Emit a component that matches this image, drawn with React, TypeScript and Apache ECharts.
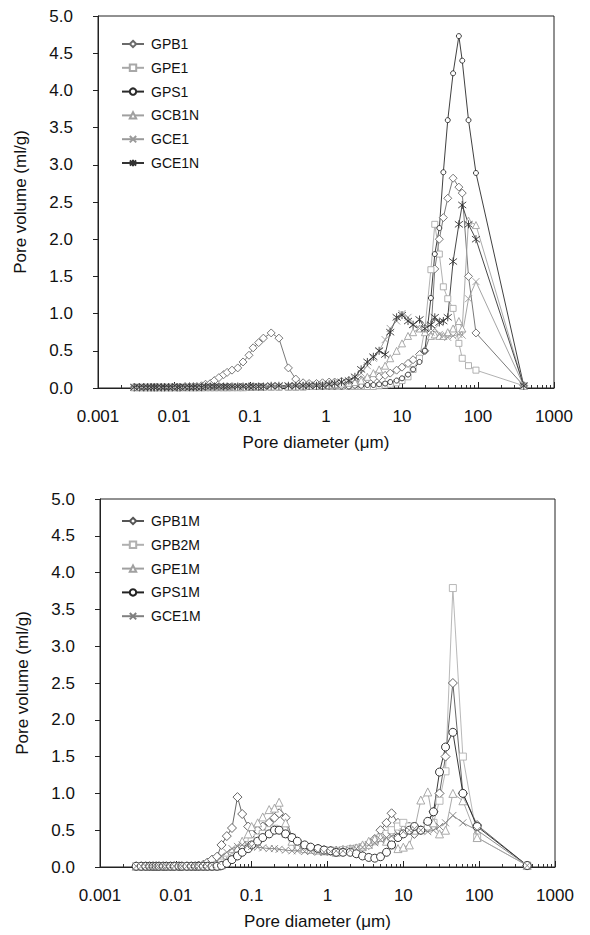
import React, { useEffect, useRef } from "react";
import * as echarts from "echarts";

// ---------- Top chart data (pore diameter in µm, pore volume in ml/g) ----------
const diamTop = [
  0.003, 0.0035, 0.004, 0.0045, 0.005, 0.0055, 0.006, 0.0068, 0.0075, 0.0085,
  0.0095, 0.011, 0.012, 0.014, 0.016, 0.018, 0.02, 0.023, 0.026, 0.03,
  0.034, 0.039, 0.045, 0.05, 0.058, 0.069, 0.081, 0.097, 0.11, 0.13,
  0.15, 0.19, 0.24, 0.32, 0.4, 0.5, 0.6, 0.75, 0.9, 1.1,
  1.3, 1.6, 2, 2.4, 2.9, 3.5, 4.2, 5, 6, 7,
  8.5, 10, 12, 14, 17, 20, 24, 27, 31, 35,
  40, 47, 56, 62, 75, 94, 400,
];
const GPB1 = [
  0.01, 0.01, 0.01, 0.01, 0.01, 0.01, 0.01, 0.01, 0.01, 0.01,
  0.01, 0.01, 0.01, 0.02, 0.02, 0.02, 0.02, 0.03, 0.05, 0.06,
  0.1, 0.14, 0.18, 0.21, 0.24, 0.27, 0.35, 0.44, 0.54, 0.61,
  0.67, 0.74, 0.67, 0.27, 0.12, 0.07, 0.06, 0.06, 0.07, 0.08,
  0.08, 0.09, 0.1, 0.1, 0.11, 0.12, 0.13, 0.15, 0.17, 0.2,
  0.24, 0.28, 0.33, 0.38, 0.45, 0.5, 0.74, 1.6, 2.0, 2.29,
  2.55, 2.82, 2.7, 2.62, 1.5, 0.74, 0.03,
];
const GPE1 = [
  0.01, 0.01, 0.01, 0.01, 0.01, 0.01, 0.01, 0.01, 0.01, 0.01,
  0.01, 0.01, 0.01, 0.01, 0.01, 0.01, 0.01, 0.01, 0.01, 0.01,
  0.01, 0.01, 0.01, 0.01, 0.01, 0.01, 0.01, 0.01, 0.01, 0.01,
  0.01, 0.01, 0.01, 0.01, 0.01, 0.01, 0.02, 0.02, 0.02, 0.02,
  0.02, 0.02, 0.02, 0.02, 0.02, 0.02, 0.02, 0.03, 0.04, 0.05,
  0.07, 0.1, 0.15, 0.25, 0.4, 0.8, 1.59, 2.2, 1.8, 1.36,
  1.2, 1.07, 0.6, 0.4, 0.3, 0.24, 0.03,
];
const GPS1 = [
  0.01, 0.01, 0.01, 0.01, 0.01, 0.01, 0.01, 0.01, 0.01, 0.01,
  0.01, 0.01, 0.01, 0.01, 0.01, 0.01, 0.01, 0.01, 0.01, 0.01,
  0.01, 0.01, 0.01, 0.01, 0.01, 0.01, 0.01, 0.01, 0.01, 0.01,
  0.01, 0.02, 0.02, 0.02, 0.02, 0.02, 0.02, 0.02, 0.02, 0.02,
  0.02, 0.02, 0.02, 0.03, 0.03, 0.04, 0.04, 0.05, 0.06, 0.08,
  0.1, 0.13, 0.18, 0.25, 0.35, 0.5, 1.21, 1.8, 2.15, 2.9,
  3.6, 4.23, 4.73, 4.4, 3.6, 2.89, 0.03,
];
const GCB1N = [
  0.01, 0.01, 0.01, 0.01, 0.01, 0.01, 0.01, 0.01, 0.01, 0.01,
  0.01, 0.01, 0.01, 0.01, 0.01, 0.01, 0.01, 0.01, 0.01, 0.01,
  0.01, 0.01, 0.01, 0.01, 0.01, 0.01, 0.01, 0.02, 0.02, 0.02,
  0.02, 0.02, 0.02, 0.02, 0.02, 0.03, 0.03, 0.03, 0.04, 0.04,
  0.05, 0.06, 0.07, 0.08, 0.1, 0.15, 0.2, 0.25, 0.3, 0.4,
  0.5, 0.6, 0.7, 0.75, 0.8, 0.75, 0.7, 0.72, 0.7, 0.7,
  0.75, 0.8, 0.9, 0.8, 2.25, 2.19, 0.03,
];
const GCE1 = [
  0.01, 0.01, 0.01, 0.01, 0.01, 0.01, 0.01, 0.01, 0.01, 0.01,
  0.01, 0.01, 0.01, 0.01, 0.01, 0.01, 0.01, 0.01, 0.01, 0.01,
  0.01, 0.01, 0.01, 0.01, 0.01, 0.02, 0.02, 0.02, 0.02, 0.02,
  0.02, 0.03, 0.03, 0.03, 0.03, 0.03, 0.04, 0.04, 0.05, 0.05,
  0.06, 0.07, 0.08, 0.12, 0.2, 0.3, 0.4, 0.5, 0.65, 0.8,
  0.9, 1.0, 0.95, 0.85, 0.8, 0.85, 0.75, 0.8, 0.72, 0.7,
  0.68, 0.7, 0.72, 0.71, 1.2, 1.43, 0.03,
];
const GCE1N = [
  0.01, 0.01, 0.01, 0.01, 0.01, 0.01, 0.01, 0.01, 0.01, 0.01,
  0.01, 0.01, 0.01, 0.01, 0.01, 0.01, 0.01, 0.01, 0.02, 0.02,
  0.02, 0.02, 0.02, 0.02, 0.02, 0.02, 0.02, 0.02, 0.02, 0.02,
  0.02, 0.03, 0.03, 0.03, 0.03, 0.03, 0.03, 0.03, 0.03, 0.05,
  0.06, 0.08, 0.1, 0.15, 0.25, 0.35, 0.42, 0.5, 0.45, 0.75,
  0.95, 0.98, 0.9, 0.85, 0.92, 0.8, 0.85, 0.95, 0.88, 0.9,
  0.95, 1.7, 2.2, 2.46, 2.2, 2.0, 0.03,
];

// ---------- Bottom chart data ----------
const diamBottom = [
  0.003, 0.0035, 0.004, 0.0045, 0.005, 0.0055, 0.006, 0.0068, 0.0075, 0.0085,
  0.0095, 0.011, 0.012, 0.014, 0.016, 0.018, 0.02, 0.023, 0.026, 0.03,
  0.035, 0.04, 0.047, 0.055, 0.065, 0.075, 0.09, 0.1, 0.12, 0.14,
  0.17, 0.2, 0.23, 0.28, 0.34, 0.4, 0.5, 0.6, 0.75, 0.9,
  1.1, 1.3, 1.6, 2, 2.4, 2.9, 3.5, 4.2, 5, 6,
  7, 8.5, 10, 12, 14, 17, 21, 25, 30, 36,
  45, 61, 94, 430,
];
const GPB1M = [
  0.01, 0.01, 0.01, 0.01, 0.01, 0.01, 0.01, 0.01, 0.01, 0.01,
  0.01, 0.01, 0.01, 0.01, 0.01, 0.01, 0.02, 0.03, 0.06, 0.1,
  0.14, 0.3, 0.42, 0.53, 0.95, 0.72, 0.55, 0.45, 0.5, 0.55,
  0.6, 0.67, 0.73, 0.67, 0.4, 0.3, 0.28, 0.26, 0.25, 0.23,
  0.22, 0.22, 0.23, 0.24, 0.25, 0.27, 0.3, 0.38, 0.5, 0.6,
  0.73, 0.6, 0.5, 0.55, 0.45, 0.5, 0.6, 0.75, 1.0, 1.5,
  2.5, 1.0, 0.57, 0.02,
];
const GPB2M = [
  0.01, 0.01, 0.01, 0.01, 0.01, 0.01, 0.01, 0.01, 0.01, 0.01,
  0.01, 0.01, 0.01, 0.01, 0.01, 0.01, 0.01, 0.01, 0.01, 0.01,
  0.03, 0.06, 0.1, 0.15, 0.2, 0.25, 0.3, 0.35, 0.4, 0.45,
  0.5, 0.52, 0.5, 0.45, 0.4, 0.32, 0.28, 0.25, 0.24, 0.23,
  0.22, 0.22, 0.23, 0.24, 0.25, 0.27, 0.3, 0.35, 0.4, 0.45,
  0.5, 0.55, 0.6, 0.55, 0.5, 0.5, 0.55, 0.6, 0.9, 1.3,
  3.79, 1.5, 0.4, 0.02,
];
const GPE1M = [
  0.01, 0.01, 0.01, 0.01, 0.01, 0.01, 0.01, 0.01, 0.01, 0.01,
  0.01, 0.01, 0.01, 0.01, 0.01, 0.01, 0.01, 0.01, 0.01, 0.01,
  0.01, 0.03, 0.08, 0.15, 0.25, 0.35, 0.45, 0.55, 0.6, 0.68,
  0.78, 0.8, 0.88, 0.6, 0.35, 0.28, 0.25, 0.24, 0.23, 0.22,
  0.22, 0.2, 0.22, 0.24, 0.26, 0.3, 0.35, 0.38, 0.4, 0.35,
  0.3, 0.25, 0.27, 0.3, 0.5, 0.91, 1.02, 0.6, 0.45, 0.5,
  1.0, 0.9, 0.4, 0.02,
];
const GPS1M = [
  0.01, 0.01, 0.01, 0.01, 0.01, 0.01, 0.01, 0.01, 0.01, 0.01,
  0.01, 0.01, 0.01, 0.01, 0.01, 0.01, 0.01, 0.01, 0.01, 0.01,
  0.01, 0.02, 0.05, 0.1, 0.15, 0.2, 0.25, 0.3, 0.35, 0.4,
  0.45, 0.5, 0.5, 0.45, 0.4, 0.35, 0.3, 0.27, 0.25, 0.23,
  0.22, 0.2, 0.2, 0.2, 0.18, 0.15, 0.13, 0.12, 0.14, 0.2,
  0.3, 0.4, 0.45, 0.5, 0.55, 0.5, 0.62, 0.75, 1.29, 1.63,
  1.83, 1.0, 0.55, 0.02,
];
const GCE1M = [
  0.01, 0.01, 0.01, 0.01, 0.01, 0.01, 0.01, 0.01, 0.01, 0.01,
  0.01, 0.01, 0.01, 0.01, 0.01, 0.01, 0.01, 0.01, 0.01, 0.03,
  0.08, 0.15, 0.2, 0.25, 0.28, 0.3, 0.3, 0.28, 0.27, 0.26,
  0.25, 0.25, 0.24, 0.23, 0.22, 0.22, 0.21, 0.21, 0.2, 0.2,
  0.21, 0.22, 0.22, 0.23, 0.25, 0.27, 0.3, 0.33, 0.37, 0.4,
  0.42, 0.45, 0.48, 0.5, 0.52, 0.5, 0.48, 0.5, 0.55, 0.6,
  0.7, 0.6, 0.5, 0.02,
];

// ---------- Axis ticks ----------
const xDecades = [0.001, 0.01, 0.1, 1, 10, 100, 1000];
const xTickLabels = ["0.001", "0.01", "0.1", "1", "10", "100", "1000"];
const minorMultipliers = [2, 3, 4, 5, 6, 7, 8, 9];
const yMin = 0;
const yMax = 5;
const yStep = 0.5;

const FONT = "'Liberation Sans', Arial, Helvetica, sans-serif";
const X_SYM = "path://M0,0L10,10M10,0L0,10";
const STAR_SYM = "path://M0,0L10,10M10,0L0,10M5,-1.5L5,11.5";

type SeriesDef = { name: string; ys: number[]; symbol: string; size: number; color: string };

const topSeries: SeriesDef[] = [
  { name: "GPB1", ys: GPB1, symbol: "diamond", size: 8, color: "#6a6a6a" },
  { name: "GPE1", ys: GPE1, symbol: "rect", size: 6, color: "#a8a8a8" },
  { name: "GPS1", ys: GPS1, symbol: "circle", size: 5, color: "#2a2a2a" },
  { name: "GCB1N", ys: GCB1N, symbol: "triangle", size: 7, color: "#a0a0a0" },
  { name: "GCE1", ys: GCE1, symbol: X_SYM, size: 7, color: "#9a9a9a" },
  { name: "GCE1N", ys: GCE1N, symbol: STAR_SYM, size: 8, color: "#333333" },
];
const bottomSeries: SeriesDef[] = [
  { name: "GPB1M", ys: GPB1M, symbol: "diamond", size: 9, color: "#555555" },
  { name: "GPB2M", ys: GPB2M, symbol: "rect", size: 7, color: "#b0b0b0" },
  { name: "GPE1M", ys: GPE1M, symbol: "triangle", size: 8, color: "#a0a0a0" },
  { name: "GPS1M", ys: GPS1M, symbol: "circle", size: 8, color: "#222222" },
  { name: "GCE1M", ys: GCE1M, symbol: X_SYM, size: 7, color: "#808080" },
];

function labelFor(v: number): string {
  const idx = xDecades.findIndex((d) => Math.abs(Math.log10(d) - Math.log10(v)) < 1e-6);
  return idx >= 0 ? xTickLabels[idx] : "";
}

function buildSeries(defs: SeriesDef[], xs: number[], axisIdx: number) {
  return defs.map((s) => ({
    name: s.name,
    type: "line",
    xAxisIndex: axisIdx * 2,
    yAxisIndex: axisIdx,
    data: xs.map((x, i) => [x, s.ys[i]]),
    symbol: s.symbol,
    symbolSize: s.size,
    showSymbol: true,
    lineStyle: { color: s.color, width: 0.9 },
    itemStyle: { color: "#ffffff", borderColor: s.color, borderWidth: 0.9 },
    emphasis: { disabled: true },
  }));
}

export default function App() {
  const ref = useRef<HTMLDivElement>(null);

  useEffect(() => {
    if (!ref.current) return;
    const chart = echarts.init(ref.current, undefined, { renderer: "svg" });

    const minorTicks: number[] = [];
    xDecades.slice(0, -1).forEach((d) => minorMultipliers.forEach((m) => minorTicks.push(+(d * m).toPrecision(3))));

    const grids = [
      { left: 98, top: 16, width: 456, height: 372 },
      { left: 100, top: 499, width: 455, height: 368 },
    ];

    const textStyle = { fontFamily: FONT, fontSize: 17, color: "#111" };

    const xAxes: any[] = [];
    const yAxes: any[] = [];
    grids.forEach((_, gi) => {
      xAxes.push({
        type: "log",
        logBase: 10,
        gridIndex: gi,
        min: 0.001,
        max: 1000,
        position: "bottom",
        name: "Pore diameter (\u03bcm)",
        nameLocation: "middle",
        nameGap: 46,
        nameTextStyle: { ...textStyle, padding: [0, 20, 0, 0] },
        axisLine: { show: true, lineStyle: { color: "#222", width: 1 } },
        axisTick: { show: true, inside: true, length: 6, lineStyle: { color: "#222" } },
        axisLabel: { ...textStyle, margin: 20, formatter: (v: number) => labelFor(v) },
        splitLine: { show: false },
      });
      xAxes.push({
        type: "log",
        logBase: 10,
        gridIndex: gi,
        min: 0.001,
        max: 1000,
        position: "bottom",
        axisLine: { show: false },
        axisTick: { show: true, inside: true, length: 3, customValues: minorTicks, lineStyle: { color: "#333" } },
        axisLabel: { show: false },
        splitLine: { show: false },
      });
      yAxes.push({
        type: "value",
        gridIndex: gi,
        min: yMin,
        max: yMax,
        interval: yStep,
        name: "Pore volume (ml/g)",
        nameLocation: "middle",
        nameGap: 69,
        nameRotate: 90,
        nameTextStyle: textStyle,
        axisLine: { show: true, lineStyle: { color: "#222", width: 1 } },
        axisTick: { show: true, inside: false, length: 5, lineStyle: { color: "#222" } },
        axisLabel: { ...textStyle, margin: 25, formatter: (v: number) => v.toFixed(1) },
        splitLine: { show: false },
      });
    });

    const legendBase = {
      orient: "vertical",
      padding: 0,
      itemWidth: 22,
      itemHeight: 8,
      itemGap: 9.8,
      textStyle: { fontFamily: FONT, fontSize: 14, color: "#111", padding: [0, 0, 0, 2] },
      selectedMode: false,
    };

    chart.setOption({
      animation: false,
      backgroundColor: "#ffffff",
      grid: grids.map((g) => ({ ...g, show: true, borderColor: "#222", borderWidth: 1, backgroundColor: "transparent" })),
      xAxis: xAxes,
      yAxis: yAxes,
      legend: [
        { ...legendBase, left: 121, top: 37, data: topSeries.map((s) => s.name) },
        { ...legendBase, left: 121, top: 514, data: bottomSeries.map((s) => s.name) },
      ],
      series: [...buildSeries(topSeries, diamTop, 0), ...buildSeries(bottomSeries, diamBottom, 1)],
    });

    return () => chart.dispose();
  }, []);

  return (
    <div
      ref={ref}
      style={{ position: "fixed", left: 0, top: 0, width: 590, height: 935, background: "#fff" }}
    />
  );
}
